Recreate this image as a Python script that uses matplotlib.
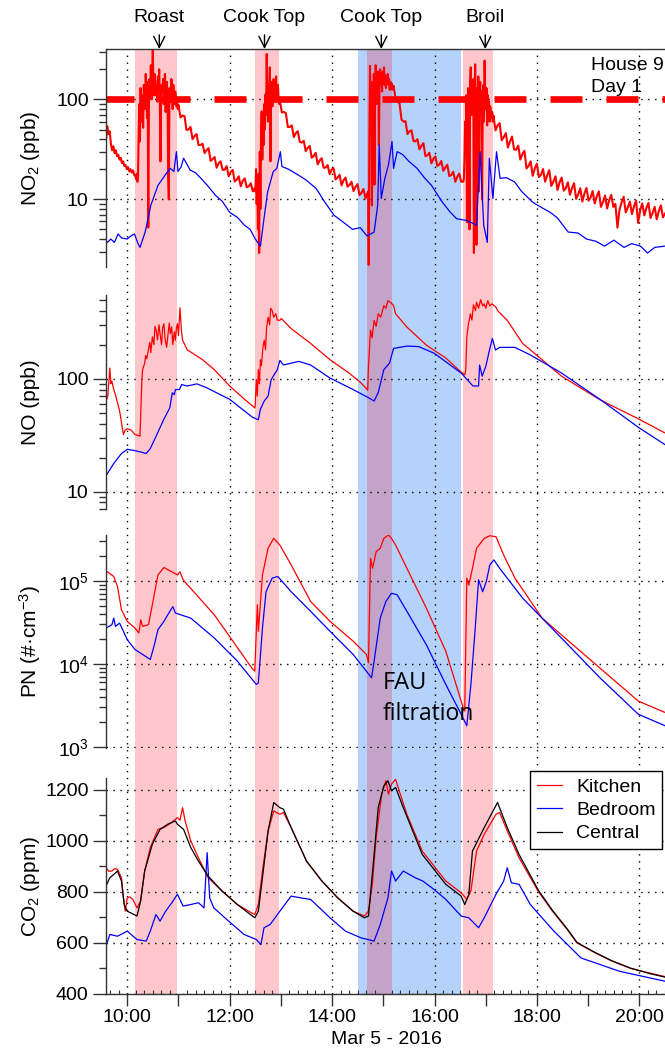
import numpy as np
import matplotlib
matplotlib.use('Agg')
import matplotlib.pyplot as plt
from matplotlib.ticker import FixedLocator, FuncFormatter, LogLocator, MultipleLocator, NullFormatter

plt.rcParams['font.family'] = ['Liberation Sans', 'DejaVu Sans']
plt.rcParams['mathtext.fontset'] = 'custom'
plt.rcParams['mathtext.rm'] = 'Liberation Sans'
plt.rcParams['mathtext.it'] = 'Liberation Sans:italic'
plt.rcParams['mathtext.bf'] = 'Liberation Sans:bold'
plt.rcParams['mathtext.default'] = 'regular'

# ---------------- data (time in decimal hours, Mar 5 2016) ----------------
event_labels = ['Roast', 'Cook Top', 'Cook Top', 'Broil']
event_arrow_t = [10.625, 12.68, 14.96, 16.99]
event_spans = [(10.16, 10.98), (12.49, 12.97), (14.68, 15.17), (16.55, 17.14)]
fau_span = (14.51, 16.52)
no2_limit = 100

# NO2 kitchen: segment boundaries and values sampled evenly within each segment
no2_k_bounds = [9.585, 10.16, 11.0, 12.49, 12.98, 14.69, 15.2, 16.56, 17.15, 20.5]
no2_k_seg = [
    [39, 54, 45, 48, 36, 31, 34, 29, 31, 27, 28, 25, 26, 23, 24, 21.5, 22, 20, 21, 19, 20, 18.5, 19.5, 17.5],
    [17, 16, 18, 15, 17, 45, 90, 38, 130, 60, 110, 75, 52, 140, 100, 80, 180, 120, 65, 150, 5.2, 90, 160,
     120, 220, 100, 170, 320, 140, 110, 180, 150, 110, 130, 95, 170, 125, 200, 90, 24, 110, 140, 120, 160,
     90, 140, 180, 75, 130, 150, 100, 17, 10, 130, 115, 95, 160, 120, 80, 140, 105, 90, 120, 100, 85, 95, 80],
    [88, 66, 69, 68, 49.5, 50, 53, 40, 43, 45, 35, 35, 36, 29, 31, 32.5, 24.3, 25.2, 26.5, 20.7, 23, 24,
     19.7, 19.8, 21.5, 17, 18.7, 19.7, 15.1, 15.7, 17, 13.5, 15.3, 16.2, 13.2, 13.5, 14.5, 12],
    [13, 12, 20, 9, 14, 5, 18, 2.9, 30, 8, 45, 76, 25, 60, 35, 90, 50, 112, 70, 285, 100, 60, 140, 95, 210,
     24, 120, 150, 85, 130, 160, 100, 140, 110, 170, 95, 120, 140, 100, 90],
    [98, 74, 75, 73, 53, 53, 55, 42, 46, 48, 37.6, 37, 38.5, 30.4, 32.8, 34.2, 26.1, 27.2, 29.2, 22.4, 24.5,
     25.8, 20.7, 20.8, 22, 17.9, 19.8, 20.5, 15.8, 16.5, 17.6, 13.8, 15.5, 16.5, 13.4, 13.9, 15, 12.1, 13.3,
     14.2, 11, 11.6, 12.7, 10.2],
    [11.5, 12, 2.2, 40, 217, 60, 150, 8.7, 100, 35, 180, 14, 120, 220, 90, 160, 130, 190, 35, 150, 200, 140,
     170, 120, 190, 150, 210, 140, 175, 130, 165, 150, 180, 140, 160, 125, 150, 135, 145, 125, 130],
    [137, 101, 96, 91, 63, 60, 60.5, 45, 48, 49, 38.5, 38, 40, 31.7, 34.3, 36.5, 27, 27.6, 29.2, 22.9, 25.5,
     26.9, 21.6, 22.3, 24.2, 19.3, 20.8, 22.2, 17.1, 17.5, 18.9, 15, 16.8, 18.1, 15],
    [15, 16, 25, 60, 40, 110, 5.9, 80, 130, 45, 5, 150, 210, 70, 120, 90, 160, 2.9, 100, 225, 60, 3.5, 130,
     80, 170, 12, 110, 150, 70, 120, 10, 90, 140, 60, 245, 100, 80, 130, 55, 110, 75, 95, 60, 85, 70, 65, 75, 60],
    [69, 49, 55, 58, 39, 42, 46, 33, 38, 42.5, 31.5, 31.4, 34.5, 25, 28.4, 30.6, 20.4, 21.6, 24, 17.2, 20.4,
     22.7, 16.7, 17.6, 20.1, 15, 17.4, 19.6, 13.6, 15, 17, 12.4, 14.8, 16.5, 12.2, 12.9, 14.8, 11.1, 12.9,
     14.5, 10.1, 11.2, 12.9, 9.5, 11.4, 13, 9.7, 10.4, 12.1, 9.1, 10.7, 12, 8.4, 9.4, 10.9, 8.1, 9.8, 11.1,
     8.4, 9, 5.2, 7.9, 9.3, 10.6, 7.4, 8.3, 9.5, 7.1, 8.5, 9.7, 5.8, 7.8, 9.1, 6.9, 8.2, 9.2, 6.5, 7.3, 8.4,
     6.3, 7.6, 8.7, 6.6, 7.2],
]

no2_b_t = [9.585, 9.68, 9.75, 9.82, 9.89, 10.0, 10.07, 10.14, 10.21, 10.25, 10.35, 10.46, 10.6, 10.74, 10.84,
           10.91, 10.96, 10.99, 11.05, 11.1, 11.23, 11.33, 11.44, 11.58, 11.72, 11.86, 12.0, 12.15, 12.29, 12.4,
           12.5, 12.6, 12.67, 12.74, 12.85, 12.92, 12.99, 13.02, 13.15, 13.34, 13.5, 13.69, 13.85, 14.04, 14.2,
           14.4, 14.55, 14.68, 14.82, 14.89, 14.92, 14.96, 15.03, 15.1, 15.17, 15.2, 15.27, 15.38, 15.5, 15.66,
           15.8, 15.94, 16.15, 16.3, 16.43, 16.65, 16.82, 16.89, 16.96, 17.03, 17.07, 17.14, 17.21, 17.28, 17.4,
           17.56, 17.7, 17.91, 18.05, 18.26, 18.4, 18.61, 18.8, 18.97, 19.15, 19.32, 19.5, 19.7, 19.85, 20.02,
           20.16, 20.3, 20.5]
no2_b_v = [3.6, 4.0, 3.7, 4.5, 4.1, 4.0, 4.3, 4.5, 3.6, 3.3, 4.7, 8.7, 13.8, 17.5, 20.4,
           19, 30, 19, 21, 25.8, 19.6, 18.5, 16.2, 13.5, 11, 9.5, 7.4, 6.6, 5.5, 5.0,
           4.0, 3.4, 6.4, 11.8, 18.9, 20.4, 30, 21.3, 20, 17.5, 15.5, 12.8, 9.5, 6.9, 6.0,
           5.0, 5.2, 4.3, 4.7, 8.7, 35, 10.2, 16.2, 22.1, 38, 20.4, 30, 28, 24, 20.4,
           16.5, 13.8, 9.4, 7.5, 6.4, 6.1, 5.5, 30, 5.5, 3.7, 25.8, 10.2, 30, 16.2, 16.5,
           15, 12, 9.4, 8.5, 7.4, 6.5, 4.7, 4.6, 4.0, 3.8, 3.4, 3.9, 3.3, 3.6, 3.4,
           2.9, 3.3, 3.4]

no_k_t = [9.585, 9.62, 9.66, 9.68, 9.70, 9.736, 9.77, 9.81, 9.85, 9.887, 9.925, 9.96, 10.0, 10.075, 10.15,
          10.24, 10.25, 10.264, 10.286, 10.30, 10.34, 10.36, 10.38, 10.414, 10.44, 10.46, 10.49, 10.52, 10.54,
          10.565, 10.59, 10.62, 10.64, 10.67, 10.69, 10.716, 10.74, 10.77, 10.79, 10.82, 10.84, 10.867, 10.89,
          10.92, 10.94, 10.96, 10.98, 11.0, 11.03, 11.06, 11.08, 11.17, 11.3, 11.47, 11.7, 12.0, 12.3, 12.49,
          12.50, 12.52, 12.54, 12.56, 12.58, 12.60, 12.62, 12.65, 12.675, 12.70, 12.72, 12.75, 12.78, 12.80,
          12.83, 12.86, 12.9, 12.93, 12.98, 13.01, 13.2, 13.58, 13.96, 14.33, 14.56, 14.695, 14.71, 14.75,
          14.78, 14.82, 14.86, 14.9, 14.95, 15.01, 15.05, 15.09, 15.15, 15.2, 15.24, 15.46, 15.84, 16.22,
          16.52, 16.59, 16.61, 16.63, 16.66, 16.7, 16.73, 16.76, 16.8, 16.82, 16.86, 16.9, 16.94, 16.97,
          17.0, 17.04, 17.08, 17.12, 17.2, 17.23, 17.42, 17.72, 18.48, 19.23, 19.98, 20.5]
no_k_v = [63, 70, 124, 90, 95, 80, 72, 61, 52, 41, 32, 35, 36, 35, 32,
          31, 31, 50, 98, 120, 137, 160, 150, 180, 210, 170, 234, 200, 290,
          268, 220, 300, 250, 200, 280, 306, 220, 190, 234, 310, 250, 286, 200,
          260, 219, 280, 306, 240, 424, 260, 219, 180, 165, 147, 120, 86, 65, 55,
          60, 98, 70, 120, 90, 147, 130, 190, 219, 180, 280, 350, 300, 420,
          400, 350, 375, 330, 328, 340, 277, 205, 147, 112, 92, 79, 128, 268,
          230, 328, 290, 375, 350, 443, 420, 490, 470, 443, 375, 286, 198, 152,
          114, 108, 120, 234, 300, 375, 330, 450, 400, 475, 420, 500, 440, 459,
          420, 490, 440, 459, 429, 400, 328, 205, 105, 65, 44, 33]

no_b_t = [9.585, 9.736, 9.887, 10.0, 10.11, 10.26, 10.37, 10.45, 10.565, 10.716, 10.83, 10.88, 10.92, 10.94,
          11.02, 11.06, 11.17, 11.36, 11.55, 12.0, 12.45, 12.56, 12.6, 12.675, 12.75, 12.81, 12.93, 12.98,
          13.05, 13.35, 13.58, 13.96, 14.41, 14.71, 14.82, 14.9, 15.01, 15.12, 15.2, 15.46, 15.69, 15.99,
          16.52, 16.75, 16.86, 16.88, 16.93, 17.0, 17.08, 17.13, 17.19, 17.27, 17.57, 17.87, 18.48, 19.23,
          19.98, 20.5]
no_b_v = [13.8, 17.7, 21.7, 23.6, 23.2, 22.4, 21.7, 24, 31, 43.8, 55, 75, 72, 80,
          80, 88.6, 86, 89.8, 83, 65.5, 45.3, 43.2, 53.6, 63.3, 70, 98, 120, 145,
          132, 142, 132, 101, 80, 67.8, 63.3, 75, 120, 137, 185, 194, 192, 168,
          112, 86, 86, 132, 105, 128, 185, 227, 179, 189, 189, 162, 112, 65.5,
          37, 26]

pn_k_t = [9.585, 9.736, 9.81, 9.887, 10.0, 10.15, 10.226, 10.264, 10.30, 10.414, 10.49, 10.6, 10.716, 10.867,
          10.98, 11.03, 11.09, 11.7, 12.45, 12.49, 12.54, 12.56, 12.64, 12.75, 12.86, 12.98, 13.2, 13.58, 13.96,
          14.41, 14.67, 14.71, 14.75, 14.79, 14.86, 14.94, 15.01, 15.1, 15.16, 15.24, 15.46, 15.84, 16.22,
          16.56, 16.59, 16.63, 16.67, 16.74, 16.82, 16.97, 17.08, 17.2, 17.35, 17.57, 18.1, 19.23, 19.98, 20.5]
pn_k_v = [1.32e5, 1.13e5, 8.5e4, 4.5e4, 3.25e4, 2.7e4, 2.36e4, 3.4e4, 2.83e4, 2.96e4, 5.15e4, 1.18e5, 1.45e5, 1.29e5,
          1.18e5, 1.29e5, 1.03e5, 3.9e4, 8.6e3, 8.2e3, 5.15e4, 2.47e4, 1.18e5, 2.47e5, 3.25e5, 2.7e5, 1.56e5, 5.65e4, 3.25e4,
          1.88e4, 1.3e4, 1.03e4, 1.87e5, 1.42e5, 2.25e5, 2.47e5, 3.25e5, 3.57e5, 3.25e5, 2.7e5, 1.42e5, 4.7e4, 1.42e4,
          2.96e3, 2.7e3, 1.08e5, 8.9e4, 1.42e5, 2.47e5, 3.25e5, 3.5e5, 3.4e5, 2.05e5, 1.08e5, 3.56e4, 8.9e3, 3.56e3, 2.6e3]

pn_b_t = [9.585, 9.70, 9.736, 9.77, 9.85, 9.925, 10.0, 10.15, 10.3, 10.45, 10.53, 10.6, 10.716, 10.79, 10.89,
          10.94, 11.24, 11.7, 12.15, 12.52, 12.56, 12.64, 12.71, 12.83, 12.94, 13.2, 13.58, 13.96, 14.41, 14.64,
          14.77, 14.82, 14.94, 15.05, 15.16, 15.27, 15.46, 15.84, 16.22, 16.52, 16.63, 16.71, 16.79, 16.86,
          16.94, 17.01, 17.08, 17.16, 17.27, 17.72, 18.1, 19.23, 19.98, 20.5]
pn_b_v = [2.7e4, 2.96e4, 3.56e4, 2.83e4, 3.1e4, 2.47e4, 1.96e4, 1.49e4, 1.3e4, 1.13e4, 1.7e4, 2.59e4, 3.25e4, 3.9e4, 4.9e4,
          4.1e4, 3.56e4, 2.05e4, 1.08e4, 5.65e3, 5.9e3, 2.7e4, 7.4e4, 1.08e5, 1.13e5, 7.4e4, 4.3e4, 2.47e4, 1.3e4, 8.6e3,
          6.8e3, 1.08e4, 3.56e4, 5.65e4, 7.1e4, 6.8e4, 4.3e4, 1.7e4, 5.65e3, 2.47e3, 1.8e3, 5.65e3, 2.47e4, 1.03e5,
          7.4e4, 9.8e4, 1.56e5, 1.79e5, 1.42e5, 6.2e4, 3.56e4, 6.8e3, 2.47e3, 1.8e3]

co2_k_t = [9.585, 9.64, 9.70, 9.75, 9.81, 9.887, 9.925, 9.96, 10.0, 10.05, 10.11, 10.19, 10.26, 10.34, 10.45,
           10.6, 10.716, 10.867, 10.98, 11.03, 11.08, 11.13, 11.24, 11.39, 11.58, 11.85, 12.15, 12.37, 12.49,
           12.56, 12.64, 12.75, 12.86, 12.98, 13.05, 13.2, 13.5, 13.8, 14.11, 14.41, 14.63, 14.71, 14.785,
           14.86, 14.97, 15.05, 15.1, 15.16, 15.24, 15.31, 15.46, 15.76, 16.22, 16.52, 16.63, 16.71, 16.82,
           16.97, 17.2, 17.27, 17.42, 17.65, 18.03, 18.3, 18.6, 18.78, 19.1, 19.45, 19.83, 20.2, 20.5]
co2_k_v = [894, 880, 881, 890, 888, 855, 776, 724, 776, 780, 770, 737, 763, 881, 973,
           1044, 1051, 1071, 1090, 1080, 1129, 1077, 999, 933, 855, 803, 750, 724, 711,
           750, 881, 1038, 1116, 1103, 1110, 1051, 920, 842, 776, 724, 705, 724, 829,
           1012, 1182, 1234, 1182, 1221, 1240, 1195, 1103, 959, 842, 796, 770, 803, 959,
           1025, 1103, 1110, 1038, 933, 800, 725, 650, 600, 565, 530, 500, 482, 468]

co2_c_t = [9.585, 9.66, 9.75, 9.81, 9.887, 9.94, 10.0, 10.19, 10.26, 10.34, 10.49, 10.64, 10.79, 10.94, 10.98,
           11.1, 11.24, 11.39, 11.58, 11.85, 12.15, 12.49, 12.56, 12.64, 12.75, 12.86, 12.98, 13.05, 13.2, 13.5,
           13.8, 14.11, 14.41, 14.63, 14.71, 14.82, 14.9, 15.01, 15.09, 15.16, 15.24, 15.39, 15.76, 16.22, 16.52,
           16.59, 16.67, 16.74, 16.97, 17.23, 17.42, 17.65, 18.03, 18.3, 18.6, 18.78, 19.1, 19.45, 19.83, 20.2, 20.5]
co2_c_v = [822, 855, 870, 881, 842, 750, 724, 705, 763, 881, 986, 1044, 1064, 1077, 1064,
           1044, 973, 920, 861, 803, 750, 698, 724, 855, 1038, 1149, 1129, 1123, 1051, 920,
           842, 776, 724, 698, 705, 946, 1129, 1214, 1234, 1195, 1208, 1129, 946, 829, 783,
           750, 790, 959, 1051, 1149, 1051, 946, 805, 728, 652, 602, 566, 531, 501, 480, 466]

co2_b_t = [9.585, 9.66, 9.81, 10.0, 10.19, 10.37, 10.45, 10.56, 10.64, 10.75, 10.87, 10.98, 11.09, 11.24,
           11.39, 11.5, 11.56, 11.61, 11.69, 11.98, 12.28, 12.52, 12.61, 12.67, 12.79, 12.98, 13.2, 13.39,
           13.58, 13.96, 14.26, 14.56, 14.82, 14.94, 15.09, 15.16, 15.24, 15.39, 15.62, 15.77, 15.99, 16.22,
           16.52, 16.67, 16.86, 16.97, 17.2, 17.35, 17.42, 17.5, 17.65, 17.87, 18.33, 18.86, 19.61, 20.5]
co2_b_v = [587, 633, 626, 646, 613, 607, 646, 711, 685, 724, 757, 790, 744, 750,
           757, 737, 953, 776, 737, 685, 633, 613, 593, 659, 672, 724, 783, 776,
           770, 698, 646, 620, 607, 672, 776, 881, 842, 881, 855, 842, 809, 770,
           705, 698, 659, 698, 790, 842, 894, 835, 829, 750, 646, 541, 489, 450]

hour_labels_every = 2
x_min, x_max = 9.585, 20.5

# ---------------- figure ----------------
W, H = 665, 1052
fig = plt.figure(figsize=(W / 100, H / 100), dpi=100)


def rect(l, t, r, b):
    return [l / W, 1 - b / H, (r - l) / W, (b - t) / H]


red, blue = '#FF0000', '#0000FF'
spine_c = '#333333'
grid_ls = (0, (1, 4))
fs = 14

bg = fig.add_axes(rect(106, 49, 665, 994), zorder=0)
bg.set_xlim(x_min, x_max)
bg.set_ylim(0, 1)
bg.axis('off')
bg.axvspan(*fau_span, color='#B4D2FA', lw=0)
for a, b in event_spans:
    bg.axvspan(a, b, color=(1.0, 0.0, 0.1), alpha=0.22, lw=0)
for h in range(10, 21, 2):
    bg.axvline(h, color='k', lw=1.0, linestyle=grid_ls)

panel_px = [(106, 49, 665, 267), (106, 295, 665, 509), (106, 535, 665, 748), (106, 778, 665, 994)]
axes = []
for i, p in enumerate(panel_px):
    ax = fig.add_axes(rect(*p), zorder=1 + i)
    ax.set_facecolor('none')
    ax.set_xlim(x_min, x_max)
    for s in ax.spines.values():
        s.set_visible(False)
        s.set_color(spine_c)
        s.set_linewidth(1.0)
    ax.spines['left'].set_visible(True)
    ax.tick_params(axis='y', which='major', direction='out', length=9.5, width=1.0,
                   labelsize=fs, pad=3, color=spine_c)
    ax.tick_params(axis='y', which='minor', direction='out', length=4.8, width=1.0, color=spine_c)
    ax.yaxis.grid(True, which='major', color='k', lw=1.0, linestyle=grid_ls)
    axes.append(ax)

ax1, ax2, ax3, ax4 = axes
ax1.spines['top'].set_visible(True)
ax4.spines['bottom'].set_visible(True)
for ax in (ax1, ax2, ax3):
    ax.tick_params(axis='x', which='both', bottom=False, labelbottom=False)

# NO2 panel
no2_k_t, no2_k_v = [], []
for i, seg in enumerate(no2_k_seg):
    last = i == len(no2_k_seg) - 1
    no2_k_t.extend(np.linspace(no2_k_bounds[i], no2_k_bounds[i + 1], len(seg), endpoint=last))
    no2_k_v.extend(seg)
ax1.plot(no2_k_t, no2_k_v, color=red, lw=1.5)
ax1.plot(no2_b_t, no2_b_v, color=blue, lw=0.9)
ax1.axhline(no2_limit, color=red, lw=4.8, linestyle=(0.6, (4.8, 3.6)), dash_capstyle='butt')

# NO panel
ax2.plot(no_k_t, no_k_v, color=red, lw=0.9)
ax2.plot(no_b_t, no_b_v, color=blue, lw=0.9)

# PN panel
ax3.plot(pn_k_t, pn_k_v, color=red, lw=0.9)
ax3.plot(pn_b_t, pn_b_v, color=blue, lw=0.9)

# CO2 panel
lk, = ax4.plot(co2_k_t, co2_k_v, color=red, lw=0.9, label='Kitchen')
lb, = ax4.plot(co2_b_t, co2_b_v, color=blue, lw=0.9, label='Bedroom')
lc, = ax4.plot(co2_c_t, co2_c_v, color='k', lw=0.9, label='Central')

for ax in (ax1, ax2, ax3):
    ax.set_yscale('log')
    ax.yaxis.set_minor_locator(LogLocator(base=10, subs=np.arange(2, 10)))
    ax.yaxis.set_minor_formatter(NullFormatter())

ax1.set_ylim(2.1, 320)
ax1.yaxis.set_major_locator(FixedLocator([1, 10, 100, 1000]))
ax1.yaxis.set_major_formatter(FuncFormatter(lambda v, p: f'{v:g}'))
ax2.set_ylim(7, 550)
ax2.yaxis.set_major_locator(FixedLocator([1, 10, 100, 1000]))
ax2.yaxis.set_major_formatter(FuncFormatter(lambda v, p: f'{v:g}'))
ax3.set_ylim(970, 3.57e5)
ax3.yaxis.set_major_locator(FixedLocator([1e3, 1e4, 1e5]))
ax3.yaxis.set_major_formatter(FuncFormatter(lambda v, p: r'$10^{%d}$' % round(np.log10(v))))

ax4.set_ylim(400, 1245)
ax4.yaxis.set_major_locator(MultipleLocator(200))
ax4.yaxis.set_minor_locator(MultipleLocator(100))
ax4.xaxis.set_major_locator(FixedLocator(list(range(10, 21))))
ax4.xaxis.set_minor_locator(MultipleLocator(1 / 6))
ax4.xaxis.set_major_formatter(FuncFormatter(
    lambda v, p: f'{int(round(v))}:00' if int(round(v)) % hour_labels_every == 0 else ''))
ax4.tick_params(axis='x', which='major', direction='out', length=8.5, width=1.0,
                labelsize=fs, pad=2, color=spine_c)
ax4.tick_params(axis='x', which='minor', direction='in', length=3, width=0.8, color=spine_c)

# labels
yfs = 15
fig.text(30 / W, 1 - 158 / H, r'$NO_2$ (ppb)', rotation=90, ha='center', va='center', fontsize=yfs)
fig.text(30 / W, 1 - 402 / H, 'NO (ppb)', rotation=90, ha='center', va='center', fontsize=yfs)
fig.text(30 / W, 1 - 641 / H, r'PN (#·cm$^{-3}$)', rotation=90, ha='center', va='center', fontsize=yfs)
fig.text(30 / W, 1 - 886 / H, r'$CO_2$ (ppm)', rotation=90, ha='center', va='center', fontsize=yfs)
fig.text(386 / W, 1 - 1040 / H, 'Mar 5 - 2016', ha='center', va='center', fontsize=fs)

for lab, t in zip(event_labels, event_arrow_t):
    ax1.annotate(lab, xy=(t, 1.0), xycoords=('data', 'axes fraction'),
                 xytext=(t, 1 + (49 - 18) / 218), textcoords=('data', 'axes fraction'),
                 ha='center', va='center', fontsize=fs, annotation_clip=False,
                 arrowprops=dict(arrowstyle='->', color='k', lw=1.0, shrinkA=4, shrinkB=0,
                                 mutation_scale=20))

fig.text(591 / W, 1 - 65 / H, 'House 9', ha='left', va='center', fontsize=fs)
fig.text(591 / W, 1 - 88 / H, 'Day 1', ha='left', va='center', fontsize=fs)

fig.text(383 / W, 1 - 683 / H, 'FAU', ha='left', va='center', fontsize=17,
         family=['Open Sans', 'DejaVu Sans'])
fig.text(383 / W, 1 - 714 / H, 'filtration', ha='left', va='center', fontsize=16.5,
         family=['Open Sans', 'DejaVu Sans'])

leg = ax4.legend(handles=[lk, lb, lc], loc='upper right', bbox_to_anchor=(0.995, 1.032),
                 borderaxespad=0, fontsize=fs, frameon=True, fancybox=False,
                 handlelength=1.3, handletextpad=0.7, labelspacing=0.3, borderpad=0.35)
leg.get_frame().set_edgecolor('k')
leg.get_frame().set_linewidth(1.0)
leg.get_frame().set_alpha(1)

fig.savefig('out.png', dpi=100)
